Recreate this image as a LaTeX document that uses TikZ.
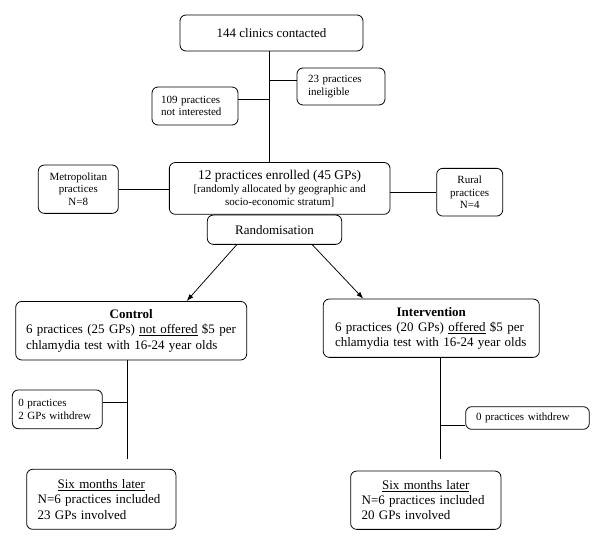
\documentclass[tikz,border=0pt]{standalone}
\usepackage{fontspec}
\setmainfont{Liberation Serif}
\usetikzlibrary{arrows.meta}
\begin{document}
\begin{tikzpicture}[x=1pt,y=-1pt,
  box/.style={draw, rounded corners=6pt, line width=0.8pt, inner sep=0pt},
  conn/.style={line width=0.75pt},
  arr/.style={line width=0.75pt, -{Latex[length=7pt,width=5pt]}},
  fbig/.style={font=\fontsize{13}{15.3}\selectfont},
  fsmall/.style={font=\fontsize{11}{12.5}\selectfont}]
\useasboundingbox (0,0) rectangle (600,550);

\node[box,fbig,minimum width=183,minimum height=36] (top) at (271.5,33) {144 clinics contacted};
\node[box,fsmall,align=left,text width=66,inner xsep=11,minimum height=37] (inel) at (341,86.5) {23 practices\\ineligible};
\node[box,fsmall,align=left,text width=68,inner xsep=9,minimum height=38] (noint) at (195,106) {109 practices\\not interested};
\node[box,fsmall,align=center,minimum width=220.7,minimum height=51.8] (enr) at (279.7,188.4)
  {{\fontsize{13.4}{15}\selectfont 12 practices enrolled (45 GPs)}\\[1pt][randomly allocated by geographic and\\socio-economic stratum]};
\node[box,fsmall,align=center,minimum width=80,minimum height=48.3] (metro) at (78.3,189.2) {Metropolitan\\practices\\N=8};
\node[box,fsmall,align=center,minimum width=66,minimum height=47.7] (rural) at (469.7,192.2) {Rural\\practices\\N=4};
\node[box,fbig,fill=white,minimum width=134.4,minimum height=29.3] (rand) at (274.5,229.7) {Randomisation};

\node[box,fbig,align=left,text width=210.4,inner xsep=10.3,minimum height=58.5] (ctrl) at (131.2,330.7)
  {\makebox[210.4pt]{\textbf{Control}}\\6 practices (25 GPs) \underline{not offered} \$5 per\\chlamydia test with 16-24 year olds};
\node[box,fbig,align=left,text width=192.6,inner xsep=11.7,minimum height=58.3] (intv) at (431.3,328.2)
  {\makebox[192.6pt]{\textbf{Intervention}}\\6 practices (20 GPs) \underline{offered} \$5 per\\chlamydia test with 16-24 year olds};

\node[box,fsmall,align=left,text width=78,inner xsep=6,minimum height=38.7] (cw) at (57.3,409.3) {0 practices\\2 GPs withdrew};
\node[box,fsmall,align=left,text width=103,inner xsep=10.3,minimum height=22.6] (iw) at (527.5,418) {0 practices withdrew};

\node[box,fbig,align=left,text width=127.3,inner xsep=11,minimum height=60] (sixl) at (101.3,499.3)
  {\makebox[127.3pt]{\underline{Six months later}}\\N=6 practices included\\23 GPs involved};
\node[box,fbig,align=left,text width=128.3,inner xsep=11,minimum height=58.3] (sixr) at (425.8,500.2)
  {\makebox[128.3pt]{\underline{Six months later}}\\N=6 practices included\\20 GPs involved};

% connectors
\coordinate (sp) at (269.3,0);
\draw[conn] (top.south -| sp) -- (enr.north -| sp);
\coordinate (inelc) at ([yshift=6.5pt]inel.west);
\draw[conn] (inelc) -- (inelc -| sp);
\coordinate (nointc) at ([yshift=7pt]noint.east);
\draw[conn] (nointc) -- (nointc -| sp);
\draw[conn] (metro.east) -- (metro.east -| enr.west);
\draw[conn] (enr.east |- rural.west) -- (rural.west);

\draw[arr] ([xshift=-37.8pt]rand.south) -- ([xshift=55.5pt]ctrl.north);
\draw[arr] ([xshift=37.8pt]rand.south) -- ([xshift=-68pt]intv.north);

\coordinate (cl) at (127.3,459.3);
\draw[conn] (ctrl.south -| cl) -- (cl);
\coordinate (cwc) at ([yshift=7pt]cw.east);
\draw[conn] (cwc) -- (cwc -| cl);
\coordinate (ir) at (440,459.3);
\draw[conn] (intv.south -| ir) -- (ir);
\coordinate (iwc) at ([yshift=-7.3pt]iw.west);
\draw[conn] (iwc -| ir) -- (iwc);
\end{tikzpicture}
\end{document}
